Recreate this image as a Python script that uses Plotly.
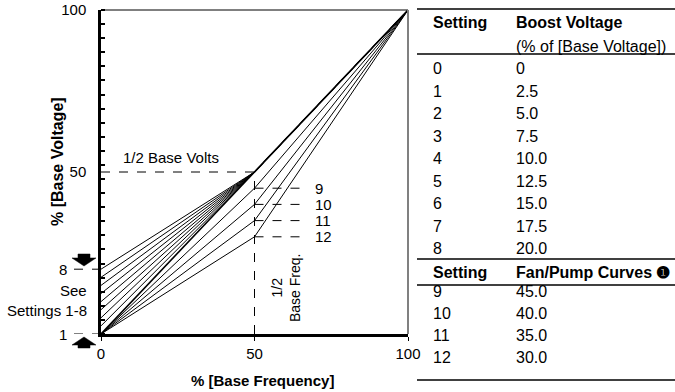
import plotly.graph_objects as go

# ---------------- data ----------------
freq_points = [0, 50, 100]                       # % base frequency break points
boost_settings = [0, 1, 2, 3, 4, 5, 6, 7, 8]
boost_values = [0, 2.5, 5.0, 7.5, 10.0, 12.5, 15.0, 17.5, 20.0]   # % of base voltage
fan_settings = [9, 10, 11, 12]
fan_values = [45.0, 40.0, 35.0, 30.0]            # % voltage at 1/2 base freq
half_volts = 50
full_volts = 100
x_tick_vals = [0, 50, 100]
x_tick_text = ["0", "50", "100"]
y_tick_vals = [50, 100]
y_tick_text = ["50", "100"]

FONT = "Liberation Sans, Arial, Helvetica, sans-serif"
W, H = 675, 392
L, R, T, B = 101, 408, 10, 334   # plot area in pixels


def pxx(p):
    return (p - L) / (R - L)


def pxy(p):
    return (B - p) / (B - T)


fig = go.Figure()

# boost curves (settings 0-8)
for s, v in zip(boost_settings, boost_values):
    fig.add_trace(go.Scatter(
        x=freq_points, y=[v, half_volts, full_volts], mode="lines",
        line=dict(color="black", width=1.6 if s == 0 else 1.0),
        name=f"Setting {s}", showlegend=False, hoverinfo="skip"))

# fan / pump curves (settings 9-12)
for s, v in zip(fan_settings, fan_values):
    fig.add_trace(go.Scatter(
        x=freq_points, y=[0, v, full_volts], mode="lines",
        line=dict(color="black", width=1.0),
        name=f"Setting {s}", showlegend=False, hoverinfo="skip"))

shapes = []
annos = []
dash = dict(color="black", width=1, dash="dash")

# guide lines
shapes.append(dict(type="line", xref="x", yref="y", x0=0, x1=50, y0=half_volts, y1=half_volts, line=dash))
shapes.append(dict(type="line", xref="x", yref="y", x0=50, x1=50, y0=0, y1=half_volts, line=dash))
for s, v in zip(fan_settings, fan_values):
    shapes.append(dict(type="line", xref="x", yref="y", x0=50, x1=67, y0=v, y1=v, line=dash))
    annos.append(dict(x=69, y=v, xref="x", yref="y", text=str(s), showarrow=False,
                      xanchor="left", yanchor="middle", font=dict(size=15)))

# frame: top black, right grey
shapes.append(dict(type="line", xref="paper", yref="paper", x0=0, x1=1, y0=1, y1=1,
                   line=dict(color="black", width=1)))
shapes.append(dict(type="line", xref="paper", yref="paper", x0=1, x1=1, y0=0, y1=1,
                   line=dict(color="#808080", width=2)))

# y-side markers for settings 1-8
for val, lab in [(boost_values[-1], "8"), (0, "1")]:
    shapes.append(dict(type="line", xref="paper", yref="y", x0=pxx(74), x1=pxx(98), y0=val, y1=val, line=dash))
    annos.append(dict(x=pxx(69), y=val, xref="paper", yref="y", text=lab, showarrow=False,
                      xanchor="right", yanchor="middle", font=dict(size=15)))
annos.append(dict(x=pxx(89), y=pxy(290), xref="paper", yref="paper", text="See", showarrow=False,
                  xanchor="right", yanchor="middle", font=dict(size=15)))
annos.append(dict(x=pxx(89), y=pxy(310), xref="paper", yref="paper", text="Settings 1-8", showarrow=False,
                  xanchor="right", yanchor="middle", font=dict(size=15)))


def path(points):
    return "M " + " L ".join(f"{pxx(a):.5f},{pxy(b):.5f}" for a, b in points) + " Z"


# down arrow above "8", up arrow below "1"
shapes.append(dict(type="path", xref="paper", yref="paper",
                   path=path([(78, 254), (90, 254), (90, 258), (96, 258), (84, 266), (72, 258), (78, 258)]),
                   fillcolor="black", line=dict(color="black", width=0.5)))
shapes.append(dict(type="path", xref="paper", yref="paper",
                   path=path([(78, 348), (90, 348), (90, 345), (96, 345), (84, 337), (72, 345), (78, 345)]),
                   fillcolor="black", line=dict(color="black", width=0.5)))

# chart text
annos.append(dict(x=pxx(121), y=pxy(157), xref="paper", yref="paper", text="1/2 Base Volts",
                  showarrow=False, xanchor="left", yanchor="middle", font=dict(size=15)))
annos.append(dict(x=pxx(286), y=pxy(288), xref="paper", yref="paper", text="1/2<br>Base Freq.",
                  showarrow=False, xanchor="center", yanchor="middle", textangle=-90,
                  font=dict(size=14)))
annos.append(dict(x=pxx(57), y=pxy(162), xref="paper", yref="paper", text="<b>% [Base Voltage]</b>",
                  showarrow=False, xanchor="center", yanchor="middle", textangle=-90,
                  font=dict(size=16)))
annos.append(dict(x=pxx(262), y=pxy(380), xref="paper", yref="paper", text="<b>% [Base Frequency]</b>",
                  showarrow=False, xanchor="center", yanchor="middle", font=dict(size=15)))

# ---------------- table ----------------
C1, C2 = 431, 514
TL, TR = 417, 676
rule = dict(color="black", width=1.3)
for yy in [9, 54, 259, 285, 380]:
    shapes.append(dict(type="line", xref="paper", yref="paper", x0=pxx(TL), x1=pxx(TR),
                       y0=pxy(yy), y1=pxy(yy), line=rule))


def cell(xp, yp, text, bold=False):
    annos.append(dict(x=pxx(xp), y=pxy(yp), xref="paper", yref="paper",
                      text=f"<b>{text}</b>" if bold else text, showarrow=False,
                      xanchor="left", yanchor="middle", font=dict(size=16)))


def fmt(v):
    return "0" if v == 0 else f"{v:.1f}"


cell(C1, 22, "Setting", True)
cell(C2, 22, "Boost Voltage", True)
cell(C2, 47, "(% of [Base Voltage])")
for i, (s, v) in enumerate(zip(boost_settings, boost_values)):
    cell(C1, 68.5 + 22.5 * i, str(s))
    cell(C2, 68.5 + 22.5 * i, fmt(v))
cell(C1, 272, "Setting", True)
cell(C2, 272, "Fan/Pump Curves ❶", True)
for i, (s, v) in enumerate(zip(fan_settings, fan_values)):
    cell(C1, 291.5 + 22 * i, str(s))
    cell(C2, 291.5 + 22 * i, fmt(v))

fig.update_layout(
    width=W, height=H,
    margin=dict(l=L, r=W - R, t=T, b=H - B, pad=0, autoexpand=False),
    paper_bgcolor="white", plot_bgcolor="white",
    font=dict(family=FONT, color="black"),
    shapes=shapes, annotations=annos, showlegend=False,
    xaxis=dict(range=[0, 100], showgrid=False, zeroline=False, showline=True, automargin=False,
               linecolor="black", linewidth=2.5, tickvals=x_tick_vals, ticktext=x_tick_text,
               ticks="outside", ticklen=4, tickcolor="black", tickwidth=1,
               tickfont=dict(size=15, family=FONT)),
    yaxis=dict(range=[0, 100], showgrid=False, zeroline=False, showline=True, automargin=False,
               linecolor="black", linewidth=2.5, tickvals=y_tick_vals, ticktext=y_tick_text,
               ticks="", ticklabelstandoff=9, tickfont=dict(size=15, family=FONT),
               minor=dict(tickmode="linear", tick0=0, dtick=100 / 23, ticks="inside",
                          ticklen=4, tickcolor="black", tickwidth=1.5)),
)

fig.write_html("out.html", config={"displayModeBar": False},
               post_script="document.body.style.margin='0';document.body.style.padding='0';"
                           "document.documentElement.style.overflow='hidden';")
